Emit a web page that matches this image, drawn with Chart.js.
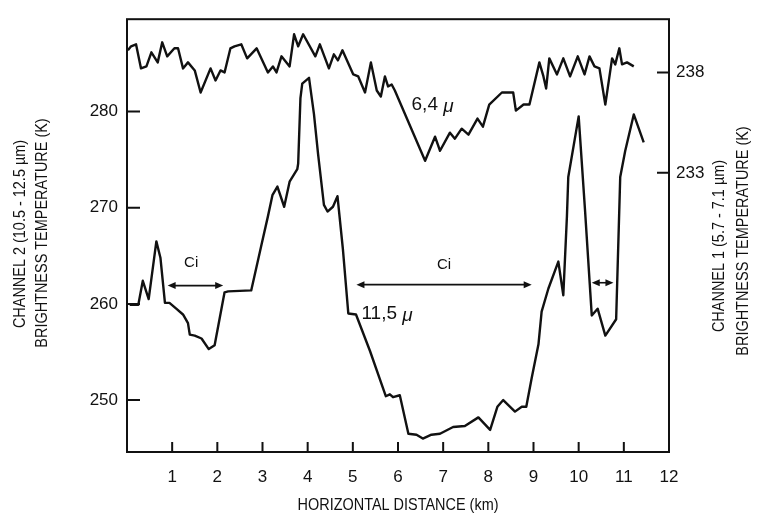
<!DOCTYPE html>
<html lang="en">
<head>
<meta charset="UTF-8">
<title>Brightness temperature profile</title>
<script src="https://cdn.jsdelivr.net/npm/chart.js"></script>
<style>
  html, body { margin: 0; padding: 0; background: #fff; }
  #wrap { width: 779px; height: 525px; }
</style>
</head>
<body>
<div id="wrap"><canvas id="profileChart" width="779" height="525"></canvas></div>
<script>
// channel 2 (11.5 µ), left axis
const ch2Km = [0.06,0.25,0.35,0.48,0.65,0.74,0.84,0.94,1.09,1.24,1.35,1.39,1.50,1.65,1.81,1.94,2.16,2.24,2.75,2.98,
  3.12,3.22,3.33,3.48,3.60,3.77,3.79,3.84,3.88,4.03,4.14,4.23,4.36,4.44,4.56,4.66,4.78,4.90,5.07,5.38,
  5.73,5.82,5.89,6.04,6.23,6.41,6.55,6.74,6.93,7.22,7.48,7.78,8.04,8.20,8.33,8.59,8.74,8.84,8.96,9.11,
  9.18,9.33,9.55,9.66,9.74,9.77,10.00,10.14,10.29,10.42,10.59,10.83,10.92,11.03,11.22,11.44];
const ch2Temp = [259.9,259.9,262.4,260.5,266.5,264.8,260.1,260.1,259.5,258.9,258.0,256.8,256.7,256.4,255.3,255.7,261.2,261.3,261.4,266.2,
  269.1,271.3,272.2,270.1,272.7,274.0,274.6,281.4,282.9,283.5,279.7,275.6,270.3,269.6,270.1,271.2,265.7,259.0,258.9,255.1,
  250.4,250.6,250.3,250.5,246.5,246.4,246.0,246.4,246.5,247.2,247.3,248.2,246.9,249.3,250.0,248.8,249.3,249.3,252.3,255.8,
  259.2,261.6,264.4,260.9,269.1,273.2,279.5,269.8,258.8,259.5,256.7,258.4,273.2,275.9,279.7,276.8];

// channel 1 (6.4 µ), right axis
const ch1Km = [0.02,0.09,0.20,0.31,0.43,0.54,0.68,0.78,0.89,1.05,1.13,1.24,1.35,1.50,1.63,1.85,1.96,2.07,2.16,2.29,
  2.38,2.53,2.66,2.87,3.12,3.23,3.31,3.42,3.60,3.70,3.79,3.90,4.17,4.27,4.47,4.58,4.67,4.77,5.01,5.12,
  5.27,5.40,5.53,5.62,5.71,5.78,5.86,5.93,6.60,6.82,6.93,7.15,7.26,7.41,7.56,7.76,7.88,8.02,8.30,8.55,
  8.61,8.78,8.91,9.13,9.22,9.28,9.35,9.52,9.66,9.81,9.98,10.13,10.24,10.35,10.46,10.59,10.74,10.81,10.90,10.96,
  11.07,11.22];
const ch1Temp = [239.1,239.3,239.4,238.2,238.3,239.0,238.5,239.5,238.8,239.2,239.2,238.2,238.5,238.1,237.0,238.2,237.6,238.1,238.0,239.2,
  239.3,239.4,238.7,239.2,238.0,238.3,238.0,238.8,238.3,239.9,239.3,239.9,238.8,239.4,238.2,238.9,238.6,239.1,237.9,237.8,
  237.0,238.5,237.1,236.8,237.8,237.3,237.4,237.1,233.6,234.8,234.1,235.0,234.7,235.2,234.9,235.7,235.3,236.4,237.0,237.0,
  236.1,236.4,236.4,238.5,237.8,237.2,238.7,237.9,238.7,237.8,238.8,237.9,238.8,238.3,238.2,236.4,238.7,238.4,239.2,238.4,
  238.5,238.3];

const xTicks = [1,2,3,4,5,6,7,8,9,10,11,12];
const leftTicks = [250,260,270,280];
const rightTicks = [233,238];

// cirrus arrows: from km, to km, temperature on left axis
const ciFrom = [0.90, 5.08, 10.29];
const ciTo = [2.13, 8.96, 10.77];
const ciAt = [261.9, 262.0, 262.2];
const ciLabelKm = [1.42, 7.02];
const ciLabelTemp = [264.3, 264.1];

const FONT = "'Liberation Sans', Arial, sans-serif";
const INK = '#111';

function arrowHead(ctx, x, y, dir) {
    ctx.beginPath();
    ctx.moveTo(x, y);
    ctx.lineTo(x - dir * 8, y - 3.5);
    ctx.lineTo(x - dir * 8, y + 3.5);
    ctx.closePath();
    ctx.fill();
}

// narrow text, the figure uses a condensed face
function squeezed(ctx, txt, x, y, angle) {
    ctx.save();
    ctx.translate(x, y);
    if (angle) ctx.rotate(angle);
    ctx.scale(0.85, 1);
    ctx.fillText(txt, 0, 0);
    ctx.restore();
}

const decorations = {
    id: 'decorations',
    afterDraw(chart) {
        const {ctx, chartArea: a, scales} = chart;
        const {x, y, y1} = scales;
        ctx.save();
        ctx.strokeStyle = INK;
        ctx.fillStyle = INK;
        ctx.lineWidth = 2;
        ctx.strokeRect(a.left, a.top, a.right - a.left, a.bottom - a.top);

        // inward tick marks
        ctx.beginPath();
        xTicks.forEach(v => {
            const px = x.getPixelForValue(v);
            ctx.moveTo(px, a.bottom); ctx.lineTo(px, a.bottom - 10);
        });
        leftTicks.forEach(v => {
            const py = y.getPixelForValue(v);
            ctx.moveTo(a.left, py); ctx.lineTo(a.left + 13, py);
        });
        rightTicks.forEach(v => {
            const py = y1.getPixelForValue(v);
            ctx.moveTo(a.right, py); ctx.lineTo(a.right - 12, py);
        });
        ctx.stroke();

        // Ci arrows
        ctx.lineWidth = 1.6;
        ciFrom.forEach((k, i) => {
            const x0 = x.getPixelForValue(k), x1 = x.getPixelForValue(ciTo[i]);
            const py = y.getPixelForValue(ciAt[i]);
            ctx.beginPath();
            ctx.moveTo(x0 + 4, py); ctx.lineTo(x1 - 4, py);
            ctx.stroke();
            arrowHead(ctx, x0, py, -1);
            arrowHead(ctx, x1, py, 1);
        });

        ctx.font = '15px ' + FONT;
        ctx.textAlign = 'center';
        ctx.textBaseline = 'middle';
        ciLabelKm.forEach((k, i) => {
            ctx.fillText('Ci', x.getPixelForValue(k), y.getPixelForValue(ciLabelTemp[i]));
        });

        // curve labels
        ctx.textAlign = 'left';
        const curveLabel = (txt, px, py) => {
            ctx.font = '19px ' + FONT;
            ctx.fillText(txt, px, py);
            const w = ctx.measureText(txt).width;
            ctx.font = 'italic 19px ' + FONT;
            ctx.fillText('\u03bc', px + w, py + 2);
        };
        curveLabel('6,4 ', x.getPixelForValue(6.30), y1.getPixelForValue(236.4));
        curveLabel('11,5 ', x.getPixelForValue(5.19), y.getPixelForValue(259.0));

        // axis titles
        ctx.font = '17px ' + FONT;
        ctx.textAlign = 'center';
        squeezed(ctx, 'HORIZONTAL DISTANCE (km)', (a.left + a.right) / 2, 505);

        const up = -Math.PI / 2;
        squeezed(ctx, 'CHANNEL 2 (10.5 - 12.5 \u00b5m)', 20, 234, up);
        squeezed(ctx, 'BRIGHTNESS TEMPERATURE (K)', 42, 233, up);
        squeezed(ctx, 'CHANNEL 1 (5.7 - 7.1 \u00b5m)', 719, 246, up);
        squeezed(ctx, 'BRIGHTNESS TEMPERATURE (K)', 743, 241, up);
        ctx.restore();
    }
};

const lineStyle = {
    borderColor: INK,
    borderWidth: 2.4,
    pointRadius: 0,
    tension: 0,
    borderJoinStyle: 'round',
    fill: false
};

new Chart(document.getElementById('profileChart'), {
    type: 'line',
    data: {
        datasets: [
            Object.assign({
                label: '11,5 \u00b5',
                yAxisID: 'y',
                data: ch2Km.map((k, i) => ({x: k, y: ch2Temp[i]}))
            }, lineStyle),
            Object.assign({
                label: '6,4 \u00b5',
                yAxisID: 'y1',
                data: ch1Km.map((k, i) => ({x: k, y: ch1Temp[i]}))
            }, lineStyle)
        ]
    },
    options: {
        responsive: false,
        animation: false,
        layout: { padding: { top: 13, left: 0, right: 0, bottom: 0 } },
        plugins: { legend: { display: false }, tooltip: { enabled: false } },
        scales: {
            x: {
                type: 'linear', min: 0, max: 12,
                afterBuildTicks: s => { s.ticks = xTicks.map(v => ({value: v})); },
                afterFit: s => { s.height = 73; },
                grid: { display: false, drawTicks: false },
                border: { display: false },
                ticks: { padding: 15, color: INK, font: { family: FONT, size: 17 } }
            },
            y: {
                position: 'left', min: 244.6, max: 289.6,
                afterBuildTicks: s => { s.ticks = leftTicks.map(v => ({value: v})); },
                afterFit: s => { s.width = 127; },
                grid: { display: false, drawTicks: false },
                border: { display: false },
                ticks: { padding: 9, color: INK, font: { family: FONT, size: 17 } }
            },
            y1: {
                position: 'right', min: 219.1, max: 240.65,
                afterBuildTicks: s => { s.ticks = rightTicks.map(v => ({value: v})); },
                afterFit: s => { s.width = 110; },
                grid: { display: false, drawTicks: false },
                border: { display: false },
                ticks: { padding: 7, color: INK, font: { family: FONT, size: 17 } }
            }
        }
    },
    plugins: [decorations]
});
</script>
</body>
</html>
